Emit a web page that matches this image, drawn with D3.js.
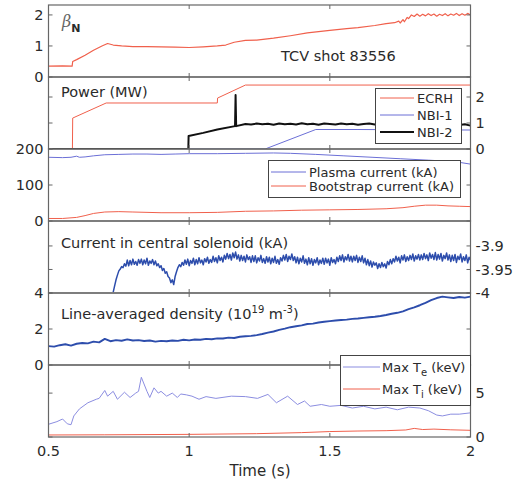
<!DOCTYPE html>
<html><head><meta charset="utf-8">
<script src="https://cdn.jsdelivr.net/npm/d3@7"></script>
<style>body{margin:0;background:#fff}text{font-family:"DejaVu Sans",sans-serif;fill:#2a2a2a}</style>
</head><body><svg id="c" width="517" height="484"></svg>
<script>
// ---------- data ----------
const xTicks=[0.5,1,1.5,2];
const xTickLabels=["0.5","1","1.5","2"];

const betaT=[0.5,0.55,0.584,0.586,0.6,0.63,0.66,0.69,0.71,0.73,0.76,0.8,0.85,0.9,0.95,1.0,1.05,1.1,1.13,1.16,1.2,1.24,1.3,1.36,1.42,1.5,1.56,1.6,1.66,1.7,1.73,1.745,1.75,1.76,1.765,1.775,1.78,1.79,1.8,1.81,1.82,1.83,1.84,1.85,1.86,1.87,1.88,1.89,1.9,1.91,1.92,1.93,1.94,1.95,1.96,1.97,1.98,1.99,2.0];
const betaV=[0.35,0.36,0.35,0.5,0.56,0.7,0.86,1.0,1.08,1.03,1.0,0.98,0.98,0.97,0.96,0.95,0.97,1.0,1.03,1.12,1.18,1.19,1.25,1.33,1.42,1.5,1.56,1.59,1.66,1.72,1.75,1.8,1.74,1.85,1.78,1.92,1.88,2.0,1.95,2.03,1.96,2.02,1.97,2.04,1.98,2.03,1.96,2.02,1.98,2.04,1.97,2.03,1.99,2.05,1.98,2.04,1.99,2.05,2.0];

const ecrhT=[0.5,0.585,0.586,0.705,1.1,1.101,1.2,2.0];
const ecrhV=[0,0,1.19,1.77,1.77,1.96,2.46,2.46];
const nbi1T=[0.5,1.27,1.45,1.6,1.8,2.0];
const nbi1V=[0,0,0.75,0.75,0.74,0.73];
const nbi2T=[0.5,0.997,0.998,1.05,1.1,1.163,1.165,1.167,1.2,1.22,1.24,1.26,1.28,1.3,1.32,1.34,1.36,1.38,1.4,1.42,1.44,1.46,1.48,1.5,1.52,1.54,1.56,1.58,1.6,1.62,1.64,1.66,1.68,1.7,1.72,1.74,1.76,1.78,1.8,1.82,1.84,1.86,1.88,1.9,1.92,1.94,1.96,1.98,2.0];
const nbi2V=[0,0,0.5,0.62,0.75,0.88,2.08,0.88,0.96,0.94,0.98,0.95,0.97,0.93,0.98,0.95,0.97,0.94,0.99,0.95,0.97,0.93,0.98,0.96,0.94,0.98,0.95,0.97,0.93,0.96,0.98,0.94,0.97,0.95,0.98,0.93,0.96,0.97,0.94,0.98,0.95,0.96,0.93,0.97,0.94,0.96,0.92,0.95,0.9];

const ipT=[0.5,0.55,0.58,0.6,0.61,0.63,0.66,0.7,0.75,0.8,0.85,0.9,0.95,1.0,1.1,1.2,1.3,1.36,1.45,1.55,1.65,1.75,1.85,1.92,1.96,2.0];
const ipV=[177,176,177,180,177,178,181,184,185,186,186,185,186,187,187,188,189,188,185,181,177,173,169,166,163,158];
const ibsT=[0.5,0.55,0.6,0.63,0.66,0.7,0.75,0.8,0.9,1.0,1.1,1.2,1.3,1.4,1.5,1.6,1.7,1.76,1.8,1.84,1.88,1.92,1.96,2.0];
const ibsV=[7,7,10,15,21,25,26,25,23,23,24,27,28,30,31,32,34,37,41,44,44,42,41,40];

// central solenoid current, one sample every 0.005 s from 0.73 s
const csStart=0.73, csStep=0.005;
const csV=[
-3.998,-3.985,-3.972,-3.962,-3.953,-3.949,-3.944,-3.946,-3.938,-3.943,
-3.930,-3.942,-3.931,-3.940,-3.928,-3.939,-3.933,-3.941,-3.929,-3.937,
-3.928,-3.940,-3.930,-3.938,-3.926,-3.941,-3.932,-3.937,-3.929,-3.940,
-3.932,-3.942,-3.938,-3.946,-3.942,-3.952,-3.948,-3.958,-3.955,-3.965,
-3.968,-3.978,-3.972,-3.982,-3.965,-3.955,-3.946,-3.940,-3.944,-3.935,
-3.941,-3.930,-3.939,-3.928,-3.942,-3.931,-3.937,-3.926,-3.940,-3.929,
-3.938,-3.925,-3.936,-3.930,-3.940,-3.927,-3.934,-3.924,-3.937,-3.929,
-3.935,-3.922,-3.933,-3.925,-3.936,-3.921,-3.931,-3.924,-3.934,-3.920,
-3.928,-3.916,-3.927,-3.918,-3.930,-3.915,-3.925,-3.913,-3.928,-3.919,
-3.932,-3.920,-3.931,-3.922,-3.934,-3.919,-3.929,-3.923,-3.935,-3.921,
-3.933,-3.921,-3.936,-3.925,-3.932,-3.920,-3.935,-3.927,-3.937,-3.923,
-3.934,-3.924,-3.938,-3.926,-3.935,-3.922,-3.937,-3.929,-3.939,-3.925,
-3.932,-3.920,-3.930,-3.918,-3.933,-3.922,-3.929,-3.917,-3.931,-3.923,
-3.936,-3.924,-3.938,-3.926,-3.934,-3.921,-3.937,-3.928,-3.940,-3.925,
-3.938,-3.927,-3.941,-3.929,-3.936,-3.925,-3.940,-3.930,-3.937,-3.926,
-3.939,-3.926,-3.936,-3.928,-3.941,-3.925,-3.935,-3.929,-3.938,-3.924,
-3.933,-3.921,-3.931,-3.919,-3.934,-3.923,-3.930,-3.918,-3.932,-3.922,
-3.934,-3.922,-3.931,-3.920,-3.935,-3.924,-3.933,-3.921,-3.936,-3.926,
-3.940,-3.929,-3.942,-3.932,-3.945,-3.934,-3.941,-3.936,-3.948,-3.938,
-3.946,-3.935,-3.944,-3.938,-3.947,-3.933,-3.940,-3.929,-3.938,-3.927,
-3.934,-3.922,-3.932,-3.924,-3.936,-3.921,-3.930,-3.919,-3.933,-3.923,
-3.931,-3.920,-3.929,-3.917,-3.932,-3.921,-3.928,-3.918,-3.930,-3.919,
-3.929,-3.916,-3.927,-3.919,-3.931,-3.915,-3.926,-3.918,-3.929,-3.914,
-3.930,-3.918,-3.928,-3.916,-3.932,-3.920,-3.927,-3.915,-3.930,-3.919,
-3.933,-3.920,-3.931,-3.918,-3.935,-3.922,-3.929,-3.917,-3.934,-3.923,
-3.931,-3.919,-3.936,-3.924,-3.930];

// line-averaged density, one sample every 0.02 s from 0.5 s
const neStart=0.5, neStep=0.02;
const neV=[1.05,1.02,1.1,1.15,1.08,1.18,1.22,1.2,1.3,1.26,1.45,1.32,1.38,1.35,1.42,1.36,1.38,1.33,1.36,1.3,1.34,1.32,1.36,1.34,1.4,1.37,1.42,1.4,1.45,1.43,1.48,1.47,1.52,1.5,1.57,1.6,1.62,1.66,1.72,1.8,1.86,1.95,2.02,2.1,2.15,2.2,2.28,2.3,2.36,2.4,2.44,2.47,2.5,2.52,2.56,2.58,2.62,2.65,2.68,2.72,2.78,2.85,2.9,2.98,3.1,3.2,3.32,3.45,3.6,3.72,3.8,3.76,3.72,3.78,3.74,3.8];

const teT=[0.5,0.53,0.55,0.567,0.58,0.59,0.61,0.64,0.67,0.68,0.70,0.71,0.73,0.745,0.77,0.79,0.81,0.82,0.83,0.85,0.86,0.875,0.89,0.9,0.92,0.94,0.958,0.97,0.99,1.01,1.035,1.06,1.095,1.15,1.2,1.243,1.28,1.31,1.35,1.385,1.41,1.43,1.47,1.5,1.54,1.58,1.62,1.66,1.7,1.74,1.78,1.82,1.85,1.88,1.9,1.93,1.96,2.0];
const teV=[1.45,1.75,2.05,1.5,1.4,2.4,3.2,3.9,4.3,4.4,5.3,4.65,5.2,4.3,5.1,4.5,5.0,5.2,6.8,5.2,4.5,5.6,5.0,5.2,4.65,5.0,4.5,4.9,4.8,4.65,4.3,4.6,4.4,4.65,4.6,4.4,4.85,3.9,4.65,3.7,4.1,3.5,3.7,3.5,3.6,3.3,3.5,3.2,3.4,3.1,3.4,3.3,3.0,2.5,2.4,2.6,2.6,2.75];
const tiT=[0.5,0.7,1.0,1.24,1.4,1.5,1.6,1.7,1.77,1.8,1.83,1.87,1.93,2.0];
const tiV=[0.23,0.25,0.3,0.38,0.5,0.62,0.68,0.72,0.8,0.98,0.85,0.9,0.82,0.76];

// ---------- layout ----------
const L=48.5,R=470.5,T0=5,PH=72;
const RED="#f0604c",BLUE="#6b6fd6",LAV="#8b8de0",DBLUE="#2d4dac";
const x=d3.scaleLinear().domain([0.5,2]).range([L,R]);
const svg=d3.select("#c");

const panelDefs=[
 {dom:[0,2.32],ticks:[0,1,2],side:"left"},
 {dom:[0,2.77],ticks:[0,1,2],side:"right"},
 {dom:[0,200],ticks:[0,100,200],side:"left"},
 {dom:[-4,-3.847],ticks:[-4,-3.95,-3.9],side:"right"},
 {dom:[0,4],ticks:[0,2,4],side:"left"},
 {dom:[0,8.2],ticks:[0,5],side:"right"}
];
const zip=(t,v)=>t.map((d,i)=>[d,v[i]]);
const seq=(s,st,v)=>v.map((d,i)=>[s+i*st,d]);
const series=[
 [{d:zip(betaT,betaV),c:RED,w:1.2}],
 [{d:zip(ecrhT,ecrhV),c:RED,w:1},{d:zip(nbi1T,nbi1V),c:BLUE,w:1},{d:zip(nbi2T,nbi2V),c:"#111",w:2}],
 [{d:zip(ipT,ipV),c:BLUE,w:1},{d:zip(ibsT,ibsV),c:RED,w:1}],
 [{d:seq(csStart,csStep,csV),c:DBLUE,w:1.5}],
 [{d:seq(neStart,neStep,neV),c:DBLUE,w:1.9}],
 [{d:zip(teT,teV),c:LAV,w:1},{d:zip(tiT,tiV),c:RED,w:1}]
];

const ys=[];
panelDefs.forEach((p,i)=>{
  const top=T0+i*PH, bot=top+PH;
  const y=d3.scaleLinear().domain(p.dom).range([bot,top]);
  ys.push(y);
  svg.append("clipPath").attr("id","cp"+i).append("rect")
    .attr("x",L).attr("y",top).attr("width",R-L).attr("height",PH);
  const g=svg.append("g").attr("clip-path","url(#cp"+i+")");
  const line=d3.line().x(d=>x(d[0])).y(d=>y(d[1]));
  series[i].forEach(s=>{
    g.append("path").attr("d",line(s.d)).attr("fill","none")
     .attr("stroke",s.c).attr("stroke-width",s.w).attr("stroke-linejoin","round");
  });
  svg.append("rect").attr("x",L).attr("y",top).attr("width",R-L).attr("height",PH)
    .attr("fill","none").attr("stroke","#666").attr("stroke-width",1.2);
  xTicks.forEach(t=>{
    svg.append("line").attr("x1",x(t)).attr("x2",x(t)).attr("y1",top).attr("y2",top+4).attr("stroke","#666");
    svg.append("line").attr("x1",x(t)).attr("x2",x(t)).attr("y1",bot).attr("y2",bot-4).attr("stroke","#666");
  });
  p.ticks.forEach(t=>{
    svg.append("line").attr("x1",L).attr("x2",L+4).attr("y1",y(t)).attr("y2",y(t)).attr("stroke","#666");
    svg.append("line").attr("x1",R).attr("x2",R-4).attr("y1",y(t)).attr("y2",y(t)).attr("stroke","#666");
  });
});
panelDefs.forEach((p,i)=>{
  p.ticks.forEach(t=>{
    svg.append("text").attr("x",p.side==="left"?L-5:R+5).attr("y",ys[i](t)).attr("dy","0.36em")
      .attr("text-anchor",p.side==="left"?"end":"start").attr("font-size",14.5).text(String(t));
  });
});
xTicks.forEach((t,i)=>{
  svg.append("text").attr("x",x(t)).attr("y",456).attr("text-anchor","middle").attr("font-size",14.5).text(xTickLabels[i]);
});
svg.append("text").attr("x",260).attr("y",476).attr("text-anchor","middle").attr("font-size",15).text("Time (s)");

const bt=svg.append("text").attr("x",62).attr("y",27);
bt.append("tspan").attr("font-family","DejaVu Serif").attr("font-style","italic").attr("font-size",16).attr("fill","#666").text("β");
bt.append("tspan").attr("font-size",11).attr("font-weight","bold").attr("dy",5).text("N");
svg.append("text").attr("x",281).attr("y",61).attr("font-size",14.5).text("TCV shot 83556");
svg.append("text").attr("x",61).attr("y",97).attr("font-size",14.5).text("Power (MW)");
svg.append("text").attr("x",61).attr("y",248).attr("font-size",14.5).text("Current in central solenoid (kA)");
const dn=svg.append("text").attr("x",61).attr("y",319).attr("font-size",14.5);
dn.append("tspan").text("Line-averaged density (10");
dn.append("tspan").attr("font-size",10).attr("dy",-6).text("19");
dn.append("tspan").attr("dy",6).text(" m");
dn.append("tspan").attr("font-size",10).attr("dy",-6).text("-3");
dn.append("tspan").attr("dy",6).text(")");

function legend(bx,by,bw,bh,lx1,lx2,tx,items){
  svg.append("rect").attr("x",bx).attr("y",by).attr("width",bw).attr("height",bh)
    .attr("fill","#fff").attr("stroke","#444").attr("stroke-width",1);
  items.forEach(it=>{
    svg.append("line").attr("x1",lx1).attr("x2",lx2).attr("y1",it.y).attr("y2",it.y)
      .attr("stroke",it.c).attr("stroke-width",it.w||1);
    const t=svg.append("text").attr("x",tx).attr("y",it.y).attr("dy","0.36em").attr("font-size",13);
    if(it.sub){
      t.append("tspan").text(it.label);
      t.append("tspan").attr("font-size",10).attr("dy",4).text(it.sub);
      t.append("tspan").attr("dy",-4).text(it.rest);
    } else t.text(it.label);
  });
}
legend(375.5,88.5,86,55,380,414,417,[
  {y:98,c:RED,label:"ECRH"},{y:115,c:BLUE,label:"NBI-1"},{y:132,c:"#111",w:2,label:"NBI-2"}]);
legend(268.5,160.5,192,37,271,306,309,[
  {y:172,c:BLUE,label:"Plasma current (kA)"},{y:186,c:RED,label:"Bootstrap current (kA)"}]);
legend(340.5,355.5,130,50,343,380,382,[
  {y:367,c:LAV,label:"Max T",sub:"e",rest:" (keV)"},{y:389,c:RED,label:"Max T",sub:"i",rest:" (keV)"}]);
</script></body></html>
